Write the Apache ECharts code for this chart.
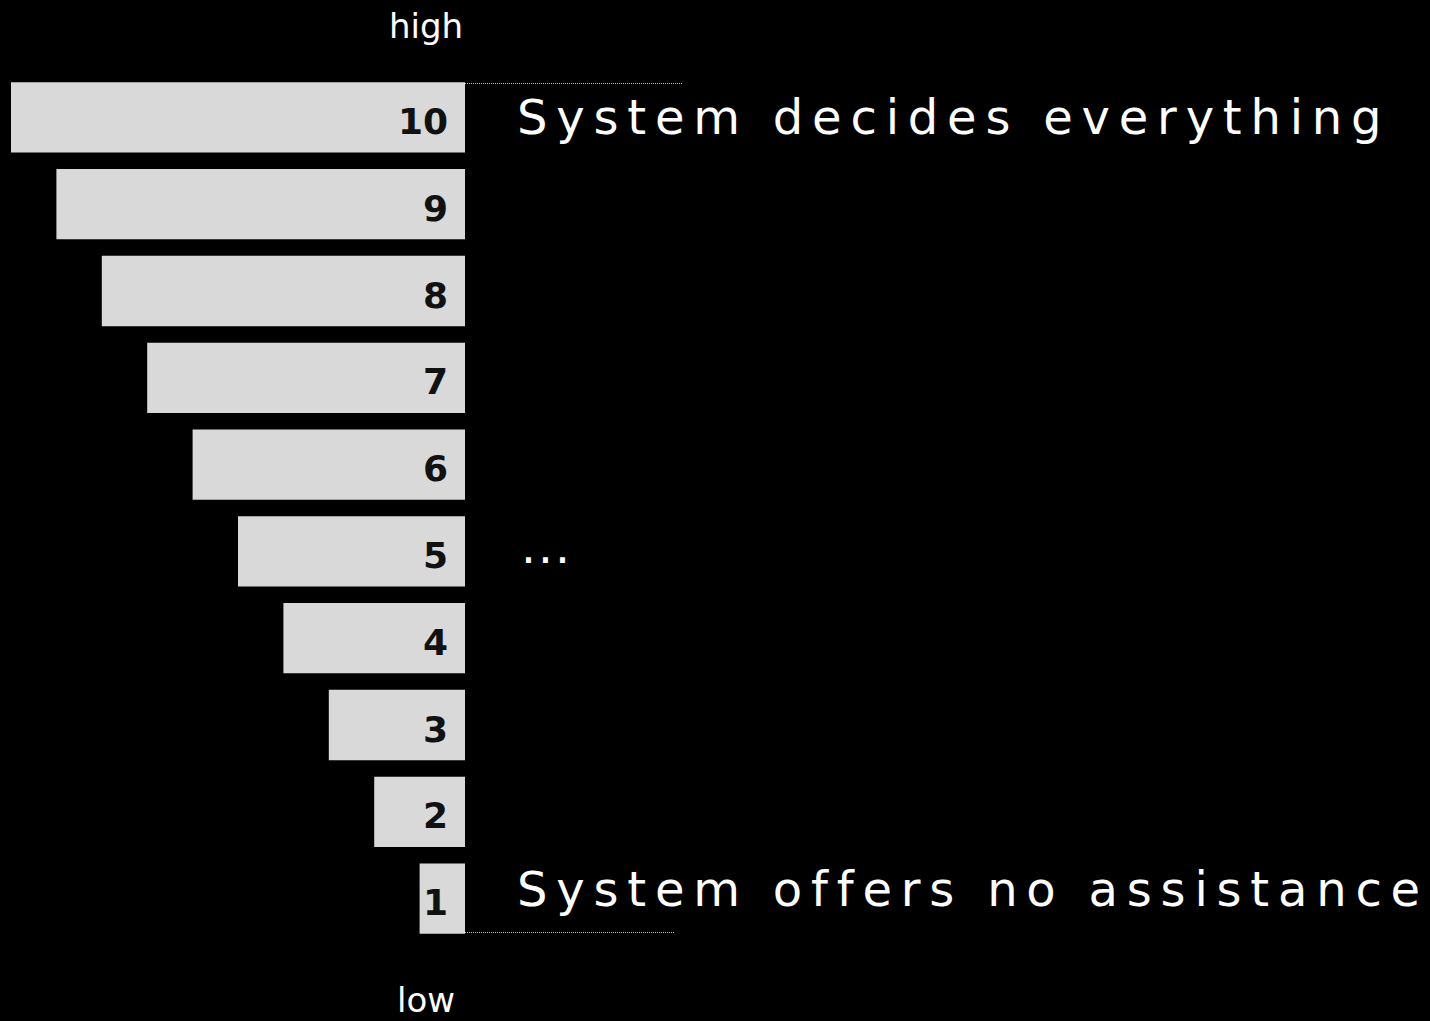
<!DOCTYPE html>
<html lang="en">
<head>
    <meta charset="UTF-8">
    <title>Assistance scale</title>
    <style>
        html, body { margin: 0; padding: 0; background: #000; }
        /* the long descriptions are set wide */
        #main text[style*="48px"] { letter-spacing: 8.8px; }
        #main text[style*="47px"] { letter-spacing: 2px; }
    </style>
</head>
<body>
<div id="main" style="width: 1430px;height:1021px;"></div>
<script src="https://cdn.jsdelivr.net/npm/echarts@6/dist/echarts.min.js"></script>
<script>
    // data
    var levels = ['1', '2', '3', '4', '5', '6', '7', '8', '9', '10'];
    var values = [1, 2, 3, 4, 5, 6, 7, 8, 9, 10];
    var descriptions = ['System offers no assistance', '', '', '', '...', '', '', '', '', 'System decides everything'];
    var topLabel = 'high';
    var bottomLabel = 'low';

    var myChart = echarts.init(document.getElementById('main'), null, {renderer: 'svg'});

    var option = {
        backgroundColor: '#000',
        animation: false,
        grid: {
            left: 11,
            right: 965,
            top: 74,
            bottom: 79
        },
        xAxis: {
            type: 'value',
            min: 0,
            max: 10,
            inverse: true,
            show: false
        },
        yAxis: {
            type: 'category',
            data: levels,
            position: 'right',
            axisLine: {show: false},
            axisTick: {show: false},
            splitLine: {show: false},
            axisLabel: {
                interval: 0,
                margin: 52,
                formatter: function (val, idx) {
                    var d = descriptions[idx];
                    if (!d) return '';
                    if (d === '...') return '{dots|' + d + '}';
                    if (idx === 0) return '{low|' + d + '}';
                    return '{big|' + d + '}';
                },
                rich: {
                    big: {
                        color: '#fff',
                        fontSize: 48,
                        fontFamily: 'DejaVu Sans'
                    },
                    low: {
                        color: '#fff',
                        fontSize: 48,
                        fontFamily: 'DejaVu Sans',
                        padding: [0, 0, 20, 0]
                    },
                    dots: {
                        color: '#fff',
                        fontSize: 47,
                        fontFamily: 'DejaVu Sans',
                        padding: [0, 0, 10, 4]
                    }
                }
            }
        },
        series: [
            {
                type: 'bar',
                data: values,
                barCategoryGap: '19%',
                itemStyle: {color: '#d9d9d9'},
                label: {
                    show: true,
                    position: 'insideRight',
                    distance: 17,
                    offset: [0, 4],
                    color: '#111',
                    fontSize: 36,
                    fontWeight: 'bold',
                    fontFamily: 'DejaVu Sans'
                }
            }
        ],
        graphic: [
            {
                type: 'text',
                x: 426, y: 26,
                style: {
                    text: topLabel, fill: '#fff', font: '34px "DejaVu Sans"',
                    textAlign: 'center', textVerticalAlign: 'middle'
                }
            },
            {
                type: 'text',
                x: 426, y: 1000,
                style: {
                    text: bottomLabel, fill: '#fff', font: '34px "DejaVu Sans"',
                    textAlign: 'center', textVerticalAlign: 'middle'
                }
            },
            {
                type: 'line',
                shape: {x1: 465, y1: 83.5, x2: 682, y2: 83.5},
                style: {stroke: '#bbb', lineWidth: 1, lineDash: [1, 1]}
            },
            {
                type: 'line',
                shape: {x1: 465, y1: 932.5, x2: 674, y2: 932.5},
                style: {stroke: '#bbb', lineWidth: 1, lineDash: [1, 1]}
            }
        ]
    };

    myChart.setOption(option);
</script>
</body>
</html>
